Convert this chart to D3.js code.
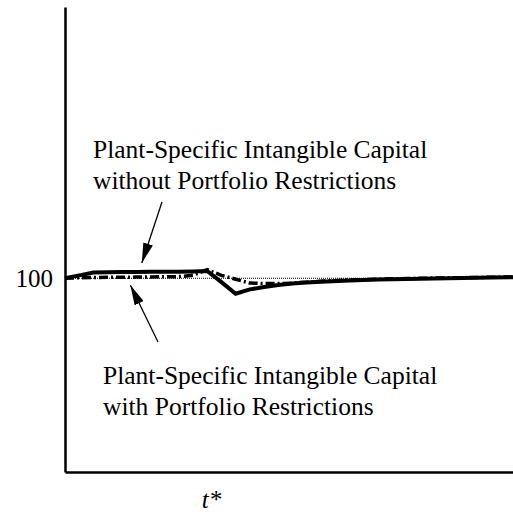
<!DOCTYPE html>
<html>
<head>
<meta charset="utf-8">
<script src="https://cdn.jsdelivr.net/npm/d3@7"></script>
<style>
  body { margin: 0; background: #fff; }
  svg { display: block; font-family: "Liberation Serif", "Times New Roman", serif; }
</style>
</head>
<body>
<svg id="chart" width="513" height="514"></svg>
<script>
// periods after start, shock hits at tStar
const periods = [0, 1, 2, 3, 4, 5, 6, 7, 8, 9, 10, 11, 12, 13, 14, 15, 16, 17, 18, 20, 22, 24, 26, 28, 30, 31.5];
const tStar = 10;

// index values (100 = baseline)
const withoutRestrictions = [100, 100.3, 100.6, 100.62, 100.64, 100.65, 100.66, 100.67, 100.68, 100.7, 100.75, 99.6, 98.4, 98.85, 99.1, 99.3, 99.45, 99.55, 99.65, 99.78, 99.87, 99.93, 99.98, 100.03, 100.07, 100.1];
const withRestrictions = [100, 100.05, 100.08, 100.1, 100.1, 100.12, 100.13, 100.15, 100.17, 100.3, 100.9, 100.3, 99.9, 99.5, 99.45, 99.45, 99.5, 99.6, 99.7, 99.82, 99.9, 99.97, 100.02, 100.06, 100.1, 100.13];
const baseline = [100, 100];
const baselineT = [0, 31.5];

const yTicks = [100];
const xTicks = [tStar];

const labelWithout = ["Plant-Specific Intangible Capital", "without Portfolio Restrictions"];
const labelWith = ["Plant-Specific Intangible Capital", "with Portfolio Restrictions"];

const svg = d3.select("#chart");
const m = { left: 65, right: 513, top: 7, bottom: 472 };

const x = d3.scaleLinear().domain([0, 31.5]).range([m.left, m.right]);
const y = d3.scaleLinear().domain([80, 128]).range([m.bottom, m.top]);

const line = d3.line()
  .x(d => x(d[0]))
  .y(d => y(d[1]));

// baseline at 100
svg.append("path")
  .datum(baselineT.map((t, i) => [t, baseline[i]]))
  .attr("d", line)
  .attr("fill", "none")
  .attr("stroke", "#000")
  .attr("stroke-width", 1)
  .attr("stroke-dasharray", "1,1");

svg.append("path")
  .datum(periods.map((t, i) => [t, withRestrictions[i]]))
  .attr("d", line)
  .attr("fill", "none")
  .attr("stroke", "#000")
  .attr("stroke-width", 3.5)
  .attr("stroke-dasharray", "9,3,2,3");

svg.append("path")
  .datum(periods.map((t, i) => [t, withoutRestrictions[i]]))
  .attr("d", line)
  .attr("fill", "none")
  .attr("stroke", "#000")
  .attr("stroke-width", 4)
  .attr("stroke-linejoin", "miter");

// axes
const yAxis = svg.append("g")
  .attr("transform", `translate(${m.left},0)`)
  .call(d3.axisLeft(y).tickValues(yTicks).tickSize(0).tickSizeOuter(0).tickPadding(12));

const xAxis = svg.append("g")
  .attr("transform", `translate(0,${m.bottom})`)
  .call(d3.axisBottom(x).tickValues(xTicks).tickFormat(() => "t*").tickSize(0).tickSizeOuter(0).tickPadding(18));

[yAxis, xAxis].forEach(g => {
  g.select(".domain").attr("stroke", "#000").attr("stroke-width", 2.5);
  g.selectAll("text")
    .attr("fill", "#000")
    .style("font-family", '"Liberation Serif", "Times New Roman", serif')
    .style("font-size", "25px");
});
xAxis.selectAll("text").style("font-style", "italic").attr("dx", "0.15em");

// arrow heads
svg.append("defs").append("marker")
  .attr("id", "head")
  .attr("viewBox", "0 0 20 10")
  .attr("refX", 20)
  .attr("refY", 5)
  .attr("markerWidth", 20)
  .attr("markerHeight", 10)
  .attr("markerUnits", "userSpaceOnUse")
  .attr("orient", "auto")
  .append("path")
  .attr("d", "M0,0L20,5L0,10Z")
  .attr("fill", "#000");

const annotations = [
  { lines: labelWithout, tx: 93, ty: 158, from: [162, 202], at: 5.4, level: 100.65, off: -9 },
  { lines: labelWith, tx: 103, ty: 384, from: [158, 342], at: 4.6, level: 100.11, off: 8 }
];

annotations.forEach(a => {
  svg.append("line")
    .attr("x1", a.from[0]).attr("y1", a.from[1])
    .attr("x2", x(a.at)).attr("y2", y(a.level) + a.off)
    .attr("stroke", "#000")
    .attr("stroke-width", 1.3)
    .attr("marker-end", "url(#head)");

  const t = svg.append("text")
    .attr("x", a.tx)
    .attr("y", a.ty)
    .attr("fill", "#000")
    .style("font-size", "25.5px");
  a.lines.forEach((s, i) => {
    t.append("tspan").attr("x", a.tx).attr("dy", i === 0 ? 0 : 31).text(s);
  });
});
</script>
</body>
</html>
